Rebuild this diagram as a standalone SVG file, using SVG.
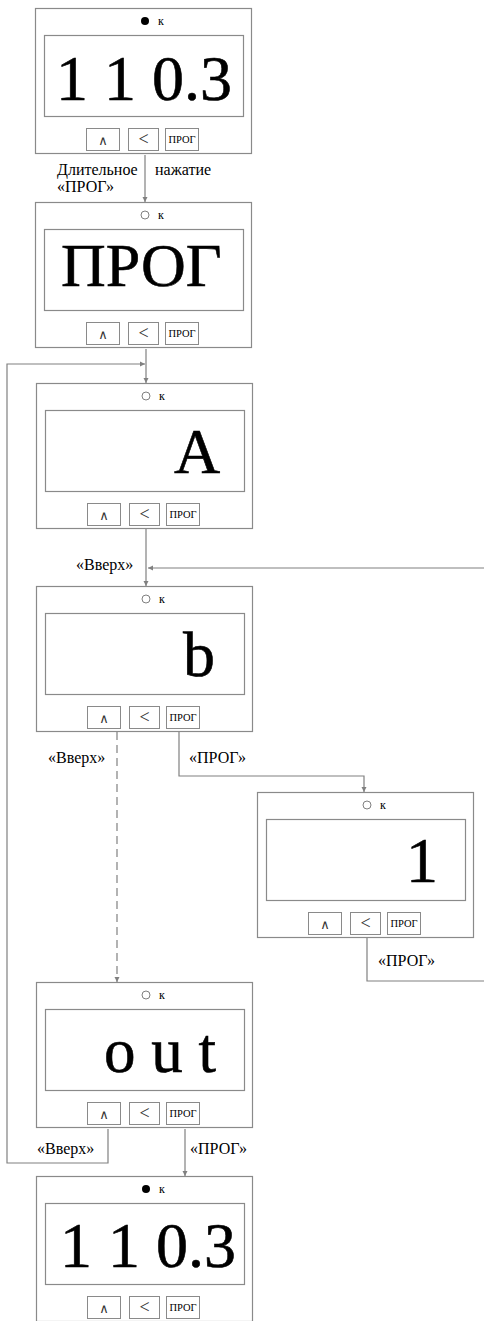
<svg xmlns="http://www.w3.org/2000/svg" xmlns:xlink="http://www.w3.org/1999/xlink" width="484" height="1321" viewBox="0 0 484 1321">
<style>
.box{fill:#fff;stroke:#8a8a8a;stroke-width:1.2}
.btn{fill:#fff;stroke:#8a8a8a;stroke-width:1}
.con{fill:none;stroke:#808080;stroke-width:1.2}
</style>
<defs>
<marker id="ar" viewBox="0 0 10 10" refX="10" refY="5" markerWidth="5" markerHeight="7" markerUnits="userSpaceOnUse" orient="auto">
<path d="M0,0 L10,5 L0,10 z" fill="#808080"/>
</marker>
<g id="frame">
<rect class="box" x="0.5" y="0.5" width="216" height="145"/>
<rect class="box" x="9.5" y="27.5" width="199" height="81"/>
<rect class="btn" x="51.5" y="120.5" width="33" height="22"/>
<rect class="btn" x="93.5" y="120.5" width="30" height="22"/>
<rect class="btn" x="130.5" y="120.5" width="33" height="22"/>
<text x="68" y="137" font-family="DejaVu Sans" font-size="13" fill="#333" text-anchor="middle">∧</text>
<text x="108.5" y="137" font-family="Liberation Serif" font-size="18" fill="#333" text-anchor="middle">&lt;</text>
<text x="147" y="135" font-family="Liberation Serif" font-size="10.5" fill="#000" text-anchor="middle">ПРОГ</text>
<text x="123" y="17" font-family="Liberation Serif" font-size="12" fill="#000">к</text>
</g>
</defs>

<g id="connectors">
<path class="con" d="M145,155 V202" marker-end="url(#ar)"/>
<path class="con" d="M146,349 V383" marker-end="url(#ar)"/>
<path class="con" d="M108,1129 V1163 H7 V364 H145" marker-end="url(#ar)"/>
<path class="con" d="M146,529 V586" marker-end="url(#ar)"/>
<path class="con" d="M367,938 V981 H484"/>
<path class="con" d="M484,568 H148" marker-end="url(#ar)"/>
<path class="con" d="M117,732 V982" stroke-dasharray="8,5" marker-end="url(#ar)"/>
<path class="con" d="M179,732 V776 H364 V792" marker-end="url(#ar)"/>
<path class="con" d="M185,1129 V1176" marker-end="url(#ar)"/>
</g>

<g id="labels">
<text font-family="Liberation Serif" font-size="16" x="57" y="175">Длительное</text>
<text font-family="Liberation Serif" font-size="16" x="57" y="192">«ПРОГ»</text>
<text font-family="Liberation Serif" font-size="16" x="155" y="175">нажатие</text>
<text font-family="Liberation Serif" font-size="16" x="76" y="570">«Вверх»</text>
<text font-family="Liberation Serif" font-size="16" x="48" y="763">«Вверх»</text>
<text font-family="Liberation Serif" font-size="16" x="189" y="763">«ПРОГ»</text>
<text font-family="Liberation Serif" font-size="16" x="378" y="966">«ПРОГ»</text>
<text font-family="Liberation Serif" font-size="16" x="37" y="1154">«Вверх»</text>
<text font-family="Liberation Serif" font-size="16" x="190" y="1154">«ПРОГ»</text>
</g>

<g id="panel1" transform="translate(35,8)">
<use xlink:href="#frame"/>
<circle cx="110" cy="13" r="4" fill="#000"/>
<text font-family="Liberation Serif" font-size="64" stroke="#000" stroke-width="0.6" x="21" y="92">1 1 0.3</text>
</g>

<g id="panel2" transform="translate(35,202)">
<use xlink:href="#frame"/>
<circle cx="110" cy="13" r="4" fill="#fff" stroke="#808080"/>
<text font-family="Liberation Serif" font-size="62" stroke="#000" stroke-width="0.6" x="26" y="84">ПРОГ</text>
</g>

<g id="panel3" transform="translate(36,383)">
<use xlink:href="#frame"/>
<circle cx="110" cy="13" r="4" fill="#fff" stroke="#808080"/>
<text font-family="Liberation Serif" font-size="64" stroke="#000" stroke-width="0.6" x="138" y="90">A</text>
</g>

<g id="panel4" transform="translate(36,586)">
<use xlink:href="#frame"/>
<circle cx="110" cy="13" r="4" fill="#fff" stroke="#808080"/>
<text font-family="Liberation Serif" font-size="64" stroke="#000" stroke-width="0.6" x="147" y="90">b</text>
</g>

<g id="panel6" transform="translate(257,792)">
<use xlink:href="#frame"/>
<circle cx="110" cy="13" r="4" fill="#fff" stroke="#808080"/>
<text font-family="Liberation Serif" font-size="64" stroke="#000" stroke-width="0.6" x="149" y="90">1</text>
</g>

<g id="panel5" transform="translate(36,982)">
<use xlink:href="#frame"/>
<circle cx="110" cy="13" r="4" fill="#fff" stroke="#808080"/>
<text font-family="Liberation Serif" font-size="63" stroke="#000" stroke-width="0.6" x="68" y="90">o u t</text>
</g>

<g id="panel7" transform="translate(36,1176)">
<use xlink:href="#frame"/>
<circle cx="110" cy="13" r="4" fill="#000"/>
<text font-family="Liberation Serif" font-size="64" stroke="#000" stroke-width="0.6" x="24" y="91">1 1 0.3</text>
</g>
</svg>
